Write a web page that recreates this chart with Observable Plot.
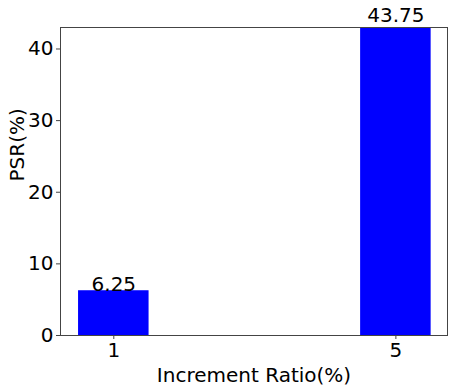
<!DOCTYPE html>
<html>
<head>
<meta charset="utf-8">
<script src="https://cdn.jsdelivr.net/npm/d3@7"></script>
<script src="https://cdn.jsdelivr.net/npm/@observablehq/plot@0.6"></script>
<style>
  html, body { margin: 0; padding: 0; background: #fff; }
</style>
</head>
<body>
<div id="chart"></div>
<script>
const categories = ["1", "5"];
const psr = [6.25, 43.75];
const yTicks = [0, 10, 20, 30, 40];
const xLabel = "Increment Ratio(%)";
const yLabel = "PSR(%)";

const data = categories.map((c, i) => ({ i, cat: c, v: psr[i] }));
const barHalf = 0.125;

const chart = Plot.plot({
  width: 453,
  height: 390,
  marginLeft: 60,
  marginRight: 6,
  marginTop: 27,
  marginBottom: 55,
  style: { fontFamily: "DejaVu Sans", fontSize: "20px", color: "#000", background: "#fff" },
  x: { type: "linear", domain: [-0.189, 1.183] },
  y: { domain: [0, 43] },
  marks: [
    Plot.rectY(data, { x1: d => d.i - barHalf, x2: d => d.i + barHalf, y1: 0, y2: "v", fill: "#0000ff", clip: true }),
    Plot.frame({ stroke: "#444", strokeWidth: 1 }),
    Plot.axisY({ ticks: yTicks, tickSize: 4, tickPadding: 3, label: null, fontSize: 20, stroke: "#444" }),
    Plot.axisX({ ticks: data.map(d => d.i), tickFormat: i => categories[i], tickSize: 4, tickPadding: 3, label: null, fontSize: 20, stroke: "#444" }),
    Plot.text(data, { x: "i", y: "v", text: d => String(d.v), lineAnchor: "bottom", fontSize: 20, fill: "#000" }),
    Plot.text([xLabel], { frameAnchor: "bottom", text: d => d, dy: 46, lineAnchor: "bottom", fontSize: 20, fill: "#000" }),
    Plot.text([yLabel], { frameAnchor: "left", text: d => d, dx: -43, rotate: -90, fontSize: 20, fill: "#000" })
  ]
});
document.getElementById("chart").appendChild(chart);
</script>
</body>
</html>
